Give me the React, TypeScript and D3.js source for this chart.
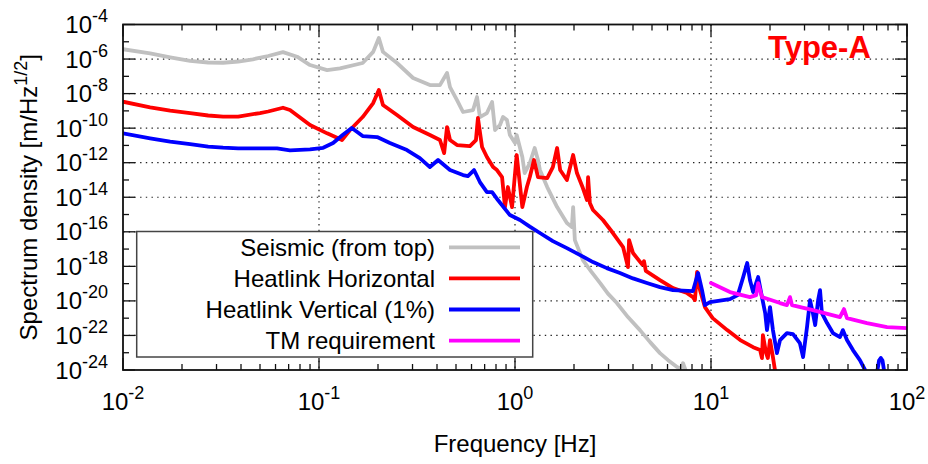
import * as d3 from 'd3'

type Pt = [number, number]

// [frequency Hz, spectrum density m/Hz^1/2]
const seismic: Pt[] = [
  [0.01, 3.7e-6], [0.01375, 2.15e-6], [0.0174, 1.26e-6], [0.022, 7.8e-7], [0.0272, 6.3e-7],
  [0.0324, 6.1e-7], [0.0387, 7.2e-7], [0.046, 9.7e-7], [0.055, 1.5e-6], [0.0655, 2.5e-6],
  [0.0773, 1.37e-6], [0.09, 4.5e-7], [0.11, 2.3e-7], [0.128, 2.9e-7], [0.167, 5.9e-7],
  [0.189, 2.6e-6], [0.202, 1.65e-5], [0.212, 2.6e-6], [0.25, 5.9e-7], [0.302, 8.0e-8],
  [0.368, 3.1e-8], [0.414, 3.1e-8], [0.45, 1.56e-7], [0.466, 2.4e-8], [0.506, 4.2e-9],
  [0.543, 8.6e-10], [0.611, 1.12e-9], [0.64, 6.3e-9], [0.662, 4.4e-10], [0.719, 7.5e-10],
  [0.764, 3.25e-9], [0.791, 7.8e-11], [0.838, 1.52e-10], [0.869, 4.4e-10], [0.91, 2.95e-10],
  [0.942, 4.0e-11], [1.0, 1.37e-11], [1.02, 4.0e-11], [1.09, 2.13e-12], [1.12, 2.5e-13],
  [1.19, 9.5e-13], [1.26, 7.1e-12], [1.31, 1.43e-12], [1.34, 3.8e-13], [1.46, 3.9e-14],
  [1.64, 2.7e-15], [1.84, 3.2e-16], [1.95, 1.88e-16], [1.98, 2.7e-15], [2.02, 3.3e-17],
  [2.22, 2.3e-18], [2.45, 5.0e-19], [2.72, 1.08e-19], [2.98, 2.65e-20], [3.31, 7.5e-21],
  [3.77, 1.16e-21], [4.34, 2.04e-22], [4.89, 4.1e-23], [5.49, 9.5e-24], [6.04, 3.7e-24],
  [6.71, 1.47e-24], [7.0, 1.2e-24], [7.2, 2.5e-24], [7.7, 3e-25],
]

const heatHorizontal: Pt[] = [
  [0.01, 3.4e-9], [0.01375, 1.6e-9], [0.0174, 1.02e-9], [0.022, 7.4e-10], [0.0272, 5.4e-10],
  [0.0324, 4.6e-10], [0.0387, 4.7e-10], [0.05, 7.5e-10], [0.055, 9.2e-10], [0.0655, 1.52e-9],
  [0.0711, 1.12e-9], [0.09, 1.52e-10], [0.11, 5.0e-11], [0.131, 2.05e-11], [0.144, 7.8e-11],
  [0.167, 4.4e-10], [0.189, 2.85e-9], [0.202, 1.61e-8], [0.212, 2.2e-9], [0.25, 5.75e-10],
  [0.302, 1.16e-10], [0.368, 4.0e-11], [0.414, 2.05e-11], [0.435, 3.6e-12], [0.45, 1.16e-10],
  [0.466, 2.05e-11], [0.506, 1.05e-11], [0.589, 9.2e-12], [0.632, 2.05e-11], [0.647, 3.86e-10],
  [0.679, 8.1e-12], [0.719, 2.13e-12], [0.773, 5.6e-13], [0.809, 3.76e-13], [0.859, 1.48e-13],
  [0.889, 2.7e-15], [0.92, 3.9e-14], [0.966, 2.7e-15], [1.02, 2.78e-12], [1.09, 2.7e-15],
  [1.15, 3.9e-14], [1.19, 1.48e-13], [1.25, 1.43e-12], [1.31, 1.48e-13], [1.46, 1.29e-13],
  [1.56, 5.6e-13], [1.64, 7.1e-12], [1.70, 3.76e-13], [1.84, 9.9e-14], [1.98, 2.78e-12],
  [2.07, 2.52e-13], [2.22, 3.4e-14], [2.33, 6.9e-15], [2.36, 1.48e-13], [2.41, 4.6e-15],
  [2.50, 1.82e-15], [2.81, 4.8e-16], [3.16, 8.5e-17], [3.56, 1.31e-17], [3.77, 9.1e-19],
  [3.82, 3.3e-17], [4.0, 5.9e-18], [4.45, 1.3e-18], [4.55, 2.0e-18], [4.65, 5.5e-19],
  [5.49, 1.61e-19], [6.4, 5.5e-20], [7.55, 2.84e-20], [8.09, 1.66e-20], [8.28, 1.11e-20],
  [8.49, 4.7e-19], [8.79, 4.2e-20], [9.31, 4.4e-21], [10.2, 1.01e-21], [12.1, 2.04e-22],
  [14.1, 5.4e-23], [16.4, 2.1e-23], [17.8, 1.42e-23], [18.2, 4.9e-24], [18.4, 1.05e-22],
  [19.1, 9.5e-24], [19.5, 4.9e-24], [20.0, 5.4e-23], [20.7, 5.6e-24], [21.2, 1e-24],
  [22.0, 2e-25],
]

const heatVertical: Pt[] = [
  [0.01, 5.0e-11], [0.01375, 2.6e-11], [0.0174, 1.64e-11], [0.022, 1.2e-11], [0.0272, 8.6e-12],
  [0.0324, 7.4e-12], [0.0387, 6.8e-12], [0.0611, 6.8e-12], [0.0711, 5.2e-12], [0.09, 5.9e-12],
  [0.105, 7.3e-12], [0.118, 1.37e-11], [0.132, 4.0e-11], [0.147, 1.02e-10], [0.167, 3.5e-11],
  [0.198, 3.06e-11], [0.23, 1.37e-11], [0.281, 5.4e-12], [0.327, 1.86e-12], [0.368, 5.6e-13],
  [0.405, 1.43e-12], [0.466, 3.76e-13], [0.543, 1.93e-13], [0.575, 1.69e-13], [0.618, 3.76e-13],
  [0.662, 7.6e-14], [0.719, 2.0e-14], [0.764, 2.0e-14], [0.818, 6.9e-15], [0.942, 9.3e-16],
  [1.06, 4.8e-16], [1.19, 2.0e-16], [1.34, 8.5e-17], [1.56, 2.9e-17], [1.84, 1.14e-17],
  [2.15, 4.5e-18], [2.5, 1.77e-18], [2.94, 7.9e-19], [3.43, 4.1e-19], [4.0, 2.0e-19],
  [4.71, 1.08e-19], [5.49, 6.3e-20], [6.4, 4.2e-20], [8.09, 3.7e-20], [8.59, 4.1e-19],
  [9.0, 4.2e-20], [9.31, 5.7e-21], [9.88, 8.5e-21], [12.5, 1.27e-20], [13.7, 2.17e-20],
  [14.6, 2.4e-19], [15.3, 1.55e-18], [15.8, 1.61e-19], [16.4, 3.24e-20], [17.4, 2.4e-19],
  [18.2, 1.66e-20], [18.9, 1.97e-21], [19.3, 2.04e-22], [20.0, 4.4e-21], [20.7, 2.04e-22],
  [21.7, 9.5e-24], [22.5, 5.4e-23], [24.4, 1.37e-22], [26.2, 1.2e-22], [28.4, 3.6e-23],
  [29.5, 5.6e-24], [30.9, 3.05e-22], [32.0, 1.11e-20], [33.1, 1.97e-21], [34.0, 4.0e-22],
  [35.2, 1.11e-20], [36.0, 4.2e-20], [36.8, 1.97e-21], [39.1, 5.2e-22], [41.9, 1.37e-22],
  [45.5, 8.0e-23], [47.1, 2.04e-22], [49.4, 5.4e-23], [53.0, 1.42e-23], [57.5, 3.7e-24],
  [61.1, 1e-24], [65.0, 1e-25], [69.0, 2e-25], [72.0, 3.5e-24], [73.5, 5e-24],
  [75.0, 3.5e-24], [78.0, 2e-25],
]

const tmRequirement: Pt[] = [
  [10, 1.08e-19], [12.5, 3.24e-20], [15.8, 1.66e-20], [17.0, 2.17e-20], [17.4, 1.08e-19],
  [18.2, 1.66e-20], [22.5, 7.5e-21], [24.4, 5.7e-21], [25.3, 1.66e-20], [25.9, 5.7e-21],
  [33.1, 2.94e-21], [45.5, 1.16e-21], [47.7, 3.36e-21], [49.4, 1.01e-21], [62.5, 5.2e-22],
  [79.1, 3.05e-22], [100, 2.67e-22],
]

const seriesNames = ['Seismic (from top)', 'Heatlink Horizontal', 'Heatlink Vertical (1%)', 'TM requirement']
const seriesColors = ['#c0c0c0', '#ff0000', '#0000ff', '#ff00ff']
const seriesData = [seismic, heatHorizontal, heatVertical, tmRequirement]

const xTickExps = [-2, -1, 0, 1, 2]
const yTickExps = [-4, -6, -8, -10, -12, -14, -16, -18, -20, -22, -24]

const W = 928
const H = 464
const M = { left: 123, right: 907, top: 24.5, bottom: 370 }
const FONT = '"Liberation Sans", Arial, Helvetica, sans-serif'

export default function App() {
  const x = d3.scaleLog().domain([1e-2, 1e2]).range([M.left, M.right])
  const y = d3.scaleLog().domain([1e-24, 1e-4]).range([M.bottom, M.top])
  const line = d3.line<Pt>().x(d => x(d[0])).y(d => y(d[1]))

  const xMinor: number[] = []
  for (let e = -2; e < 2; e++) for (let k = 2; k <= 9; k++) xMinor.push(k * 10 ** e)
  const yMinor: number[] = []
  for (let e = -23; e <= -5; e += 2) yMinor.push(10 ** e)

  const grid = { stroke: '#222', strokeWidth: 1.2, strokeDasharray: '1.4,4.3' }
  const axisStroke = '#111'

  return (
    <svg width={W} height={H} style={{ position: 'absolute', left: 0, top: 0, background: '#fff' }} fontFamily={FONT}>
      <defs>
        <clipPath id="plot">
          <rect x={M.left} y={M.top} width={M.right - M.left} height={M.bottom - M.top} />
        </clipPath>
      </defs>

      {/* grid */}
      {xTickExps.slice(1, -1).map(e => (
        <line key={'gx' + e} x1={x(10 ** e)} x2={x(10 ** e)} y1={M.top} y2={M.bottom} {...grid} />
      ))}
      {yTickExps.slice(1, -1).map(e => (
        <line key={'gy' + e} x1={M.left} x2={M.right} y1={y(10 ** e)} y2={y(10 ** e)} {...grid} />
      ))}

      {/* curves */}
      <g clipPath="url(#plot)" fill="none" strokeWidth={3.8} strokeLinejoin="round" strokeLinecap="round">
        {seriesData.map((s, i) => (
          <path key={i} d={line(s) ?? ''} stroke={seriesColors[i]} />
        ))}
      </g>

      {/* ticks */}
      <g stroke={axisStroke} strokeWidth={1.3}>
        {xTickExps.map(e => (
          <g key={'tx' + e}>
            <line x1={x(10 ** e)} x2={x(10 ** e)} y1={M.bottom} y2={M.bottom - 12} />
            <line x1={x(10 ** e)} x2={x(10 ** e)} y1={M.top} y2={M.top + 12} />
          </g>
        ))}
        {xMinor.map((v, i) => (
          <g key={'mx' + i}>
            <line x1={x(v)} x2={x(v)} y1={M.bottom} y2={M.bottom - 6} />
            <line x1={x(v)} x2={x(v)} y1={M.top} y2={M.top + 6} />
          </g>
        ))}
        {yTickExps.map(e => (
          <g key={'ty' + e}>
            <line x1={M.left} x2={M.left + 12} y1={y(10 ** e)} y2={y(10 ** e)} />
            <line x1={M.right} x2={M.right - 12} y1={y(10 ** e)} y2={y(10 ** e)} />
          </g>
        ))}
        {yMinor.map((v, i) => (
          <g key={'my' + i}>
            <line x1={M.left} x2={M.left + 6} y1={y(v)} y2={y(v)} />
            <line x1={M.right} x2={M.right - 6} y1={y(v)} y2={y(v)} />
          </g>
        ))}
      </g>

      {/* legend */}
      <rect x={136.7} y={231.5} width={396} height={125.5} fill="#fff" stroke="#444" strokeWidth={1.5} />
      {seriesNames.map((name, i) => {
        const cy = 247.3 + i * 31.1
        return (
          <g key={name}>
            <text x={435} y={cy + 8.5} textAnchor="end" fontSize={24} fill="#000">{name}</text>
            <line x1={449} x2={520} y1={cy} y2={cy} stroke={seriesColors[i]} strokeWidth={3.8} />
          </g>
        )
      })}

      {/* frame */}
      <rect x={M.left} y={M.top} width={M.right - M.left} height={M.bottom - M.top} fill="none" stroke={axisStroke} strokeWidth={1.8} />

      {/* tick labels */}
      {xTickExps.map(e => (
        <text key={'lx' + e} x={x(10 ** e)} y={410} textAnchor="middle" fontSize={24} fill="#000">
          10<tspan fontSize={18} dy={-11}>{e}</tspan>
        </text>
      ))}
      {yTickExps.map(e => (
        <text key={'ly' + e} x={108} y={y(10 ** e) + 8.5} textAnchor="end" fontSize={24} fill="#000">
          10<tspan fontSize={18} dy={-11}>{e}</tspan>
        </text>
      ))}

      {/* axis titles */}
      <text x={(M.left + M.right) / 2} y={452} textAnchor="middle" fontSize={24} fill="#000">Frequency [Hz]</text>
      <text transform={`translate(37,${(M.top + M.bottom) / 2}) rotate(-90)`} textAnchor="middle" fontSize={24} fill="#000">
        Spectrum density [m/Hz<tspan fontSize={18} dy={-10}>1/2</tspan><tspan dy={10}>]</tspan>
      </text>

      <text x={768} y={58} fontSize={31} fontWeight="bold" fill="#ff0000">Type-A</text>
    </svg>
  )
}
